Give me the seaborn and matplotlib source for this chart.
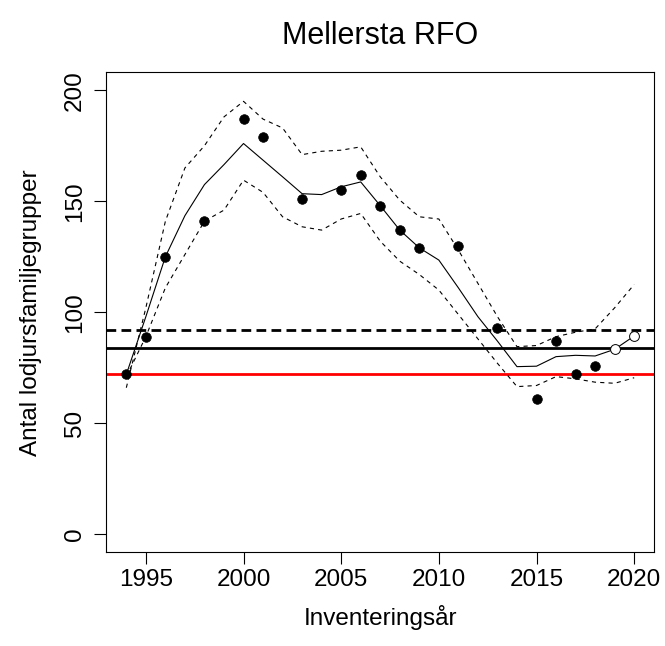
import numpy as np
import pandas as pd
import matplotlib
matplotlib.use("Agg")
import matplotlib.pyplot as plt
import seaborn as sns

# Observed counts (filled) and preliminary counts (open)
obs_years = [1994, 1995, 1996, 1998, 2000, 2001, 2003, 2005, 2006, 2007, 2008,
             2009, 2011, 2013, 2015, 2016, 2017, 2018]
obs_counts = [72, 89, 125, 141, 187, 179, 151, 155, 162, 148, 137,
              129, 130, 93, 61, 87, 72, 76]
prel_years = [2019, 2020]
prel_counts = [83.5, 89.3]

# Model estimate with upper / lower bounds
fit_years = list(range(1994, 2021))
fit_mid = [72, 98, 125, 143.5, 157.5, 166.5, 176, 168.5, 161, 153.4, 153, 156.5,
           158.7, 148, 137, 129, 123.5, 111, 98, 87, 75.5, 75.7, 80, 80.6, 80.3,
           83.3, 89.3]
fit_upper = [66, 102, 141, 165, 175, 188, 195, 187, 183, 171, 172.5, 173,
             174.5, 161, 150.5, 143, 142, 128, 113, 98, 84.5, 85, 89, 91, 92.5,
             102, 112.5]
fit_lower = [71, 89, 111, 126, 141, 146, 159.5, 154, 143, 138.5, 137, 142,
             144.5, 132, 123, 117, 110, 99, 88, 77, 66.5, 67, 71, 70, 68.5,
             68, 70.5]

# Reference levels
level_dashed = 92
level_solid = 84
level_red = 72

sns.set_style("white")
plt.rcParams['font.family'] = ['Liberation Sans', 'DejaVu Sans']
plt.rcParams['lines.scale_dashes'] = False
for key in ['text.color', 'axes.labelcolor', 'xtick.color', 'ytick.color']:
    plt.rcParams[key] = 'black'

fit = pd.DataFrame({'year': fit_years, 'mid': fit_mid,
                    'upper': fit_upper, 'lower': fit_lower})
obs = pd.DataFrame({'year': obs_years, 'count': obs_counts})
prel = pd.DataFrame({'year': prel_years, 'count': prel_counts})

fig = plt.figure(figsize=(6.65, 6.46), dpi=100)
ax = fig.add_axes([0.1594, 0.1455, 0.8248, 0.7423])

ax.axhline(level_dashed, color='black', lw=2, dashes=(7, 3.8), zorder=1)
ax.axhline(level_solid, color='black', lw=2, zorder=1)
ax.axhline(level_red, color='#ff0000', lw=2, zorder=1)

sns.lineplot(data=fit, x='year', y='mid', color='black', lw=0.8, ax=ax, zorder=2)
sns.lineplot(data=fit, x='year', y='upper', color='black', lw=0.8,
             ax=ax, zorder=2).lines[-1].set_dashes((3, 3))
sns.lineplot(data=fit, x='year', y='lower', color='black', lw=0.8,
             ax=ax, zorder=2).lines[-1].set_dashes((3, 3))

sns.scatterplot(data=obs, x='year', y='count', color='black', s=48,
                edgecolor='black', linewidth=0.5, ax=ax, zorder=3)
sns.scatterplot(data=prel, x='year', y='count', facecolor='white', s=50,
                edgecolor='black', linewidth=0.7, ax=ax, zorder=3)

ax.set_xlim(1992.96, 2021.04)
ax.set_ylim(-8, 208)
ax.set_xticks([1995, 2000, 2005, 2010, 2015, 2020])
ax.set_yticks([0, 50, 100, 150, 200])

for side in ax.spines.values():
    side.set_color('black')
    side.set_linewidth(0.8)

ax.tick_params(axis='both', which='both', direction='out', length=8.5,
               width=0.8, color='black', labelsize=17.5,
               bottom=True, left=True)
ax.tick_params(axis='x', pad=4)
ax.tick_params(axis='y', pad=6)
plt.setp(ax.get_yticklabels(), rotation=90, va='center')

ax.set_xlabel('Inventeringsår', fontsize=17.5, labelpad=10)
ax.set_ylabel('Antal lodjursfamiljegrupper', fontsize=17.5, labelpad=16)
fig.text(0.5714, 0.944, 'Mellersta RFO', ha='center', va='center', fontsize=22)

fig.savefig('out.png', dpi=100)
